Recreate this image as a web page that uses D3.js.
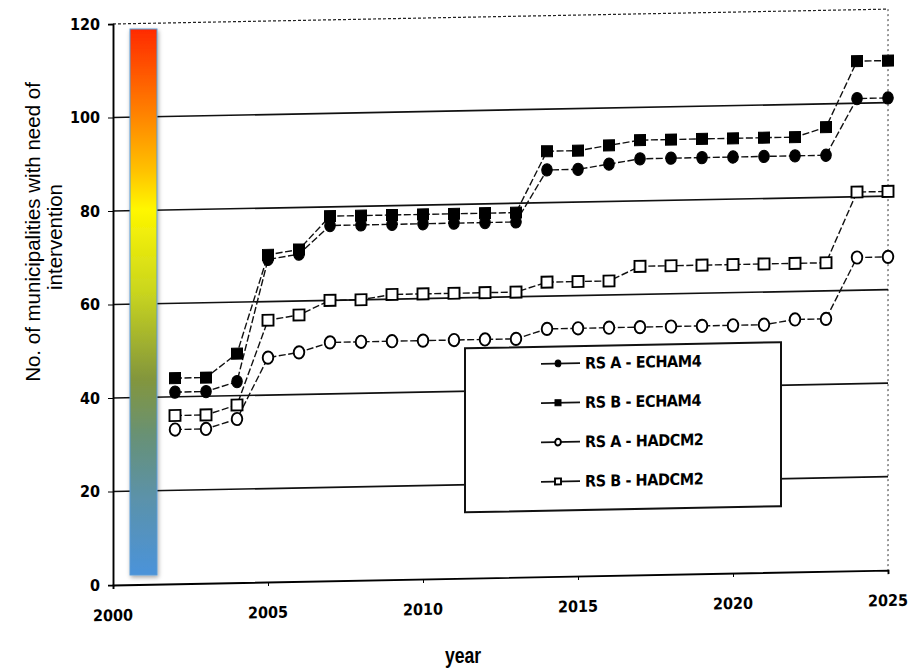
<!DOCTYPE html>
<html>
<head>
<meta charset="utf-8">
<script src="https://cdn.jsdelivr.net/npm/d3@7"></script>
<style>
  body { margin: 0; background: #fff; }
  svg { display: block; font-family: "Liberation Sans", Arial, sans-serif; }
  .narrow { font-family: "Liberation Sans Narrow", "DejaVu Sans Condensed", "Liberation Sans", sans-serif; font-weight: bold; }
</style>
</head>
<body>
<div id="chart"></div>
<script>
// values
const years = [2002, 2003, 2004, 2005, 2006, 2007, 2008, 2009, 2010, 2011, 2012, 2013,
               2014, 2015, 2016, 2017, 2018, 2019, 2020, 2021, 2022, 2023, 2024, 2025];
const rsA_echam4 = [41, 41, 43, 69, 70, 76, 76, 76, 76, 76, 76, 76,
                    87, 87, 88, 89, 89, 89, 89, 89, 89, 89, 101, 101];
const rsB_echam4 = [44, 44, 49, 70, 71, 78, 78, 78, 78, 78, 78, 78,
                    91, 91, 92, 93, 93, 93, 93, 93, 93, 95, 109, 109];
const rsA_hadcm2 = [33, 33, 35, 48, 49, 51, 51, 51, 51, 51, 51, 51,
                    53, 53, 53, 53, 53, 53, 53, 53, 54, 54, 67, 67];
const rsB_hadcm2 = [36, 36, 38, 56, 57, 60, 60, 61, 61, 61, 61, 61,
                    63, 63, 63, 66, 66, 66, 66, 66, 66, 66, 81, 81];

const seriesNames = ["RS A - ECHAM4", "RS B - ECHAM4", "RS A - HADCM2", "RS B - HADCM2"];
const xTicks = [2000, 2005, 2010, 2015, 2020, 2025];
const yTicks = [0, 20, 40, 60, 80, 100, 120];

const series = [
  { name: seriesNames[0], values: rsA_echam4, shape: "circle", filled: true },
  { name: seriesNames[1], values: rsB_echam4, shape: "square", filled: true },
  { name: seriesNames[2], values: rsA_hadcm2, shape: "circle", filled: false },
  { name: seriesNames[3], values: rsB_hadcm2, shape: "square", filled: false }
];

const width = 908, height = 671;
const x0 = 113, x1 = 888, yBottom = 585, yTop = 24;

const svg = d3.select("#chart").append("svg")
  .attr("width", width)
  .attr("height", height);

svg.append("rect").attr("width", width).attr("height", height).attr("fill", "#fff");

const x = d3.scaleLinear().domain([2000, 2025]).range([x0, x1]);
const y = d3.scaleLinear().domain([0, 120]).range([yBottom, yTop]);

// y tick labels sit outside the tilted scan
svg.append("g").selectAll("text")
  .data(yTicks).enter()
  .append("text")
  .attr("class", "narrow")
  .attr("x", 100)
  .attr("y", d => y(d))
  .attr("dy", "0.36em")
  .attr("text-anchor", "end")
  .style("font-size", "16px")
  .text(d => d);

// the scanned plot is slightly tilted
const plot = svg.append("g")
  .attr("transform", "translate(" + x0 + "," + yBottom + ") skewY(-1.1) translate(" + (-x0) + "," + (-yBottom) + ")");

// frame: dotted top and right
plot.append("line")
  .attr("x1", x0).attr("x2", x1).attr("y1", y(120)).attr("y2", y(120))
  .attr("stroke", "#222").attr("stroke-width", 1.2).attr("stroke-dasharray", "3,2");
plot.append("line")
  .attr("x1", x1).attr("x2", x1).attr("y1", y(120)).attr("y2", y(0))
  .attr("stroke", "#333").attr("stroke-width", 1).attr("stroke-dasharray", "2,3");

// gridlines
plot.selectAll(".grid")
  .data(yTicks.filter(d => d > 0 && d < 120)).enter()
  .append("line")
  .attr("class", "grid")
  .attr("x1", x0).attr("x2", x1)
  .attr("y1", d => y(d)).attr("y2", d => y(d))
  .attr("stroke", "#111").attr("stroke-width", 1.7);

// axes
plot.append("g")
  .attr("transform", "translate(0," + yBottom + ")")
  .call(d3.axisBottom(x).tickValues(xTicks).tickSize(4).tickFormat(""))
  .call(g => g.select(".domain").attr("stroke-width", 1.9));
plot.append("g")
  .attr("transform", "translate(" + x0 + ",0)")
  .call(d3.axisLeft(y).tickValues(yTicks).tickSize(5).tickFormat(""))
  .call(g => g.select(".domain").attr("stroke-width", 1.9));

plot.append("g").selectAll("text")
  .data(xTicks).enter()
  .append("text")
  .attr("class", "narrow")
  .attr("x", d => x(d))
  .attr("y", yBottom + 36)
  .attr("text-anchor", "middle")
  .style("font-size", "16px")
  .text(d => d);

// legend box (white, covers gridlines)
const lg = plot.append("g");
lg.append("rect")
  .attr("x", 465).attr("y", 355)
  .attr("width", 316).attr("height", 164)
  .attr("fill", "#fff").attr("stroke", "#111").attr("stroke-width", 2);

// lines and markers
const line = d3.line()
  .x((d, i) => x(years[i]))
  .y(d => y(d));

function marker(sel, s, size) {
  if (s.shape === "circle") {
    sel.append("ellipse")
      .attr("rx", size * 0.48).attr("ry", size * 0.56);
  } else {
    sel.append("rect")
      .attr("x", -size / 2).attr("y", -size / 2)
      .attr("width", size).attr("height", size);
  }
  sel.selectAll("ellipse, rect")
    .attr("fill", s.filled ? "#000" : "#fff")
    .attr("stroke", "#000")
    .attr("stroke-width", s.filled ? 1 : 1.9);
}

series.forEach(function(s) {
  plot.append("path")
    .datum(s.values)
    .attr("d", line)
    .attr("fill", "none")
    .attr("stroke", "#111")
    .attr("stroke-width", 1.4)
    .attr("stroke-dasharray", "7,2.5");
});

series.forEach(function(s) {
  plot.append("g").selectAll("g")
    .data(s.values).enter()
    .append("g")
    .attr("transform", (d, i) => "translate(" + x(years[i]) + "," + y(d) + ")")
    .each(function() { marker(d3.select(this), s, 11); });
});

// legend entries
const ly = d3.scalePoint().domain(seriesNames).range([372, 490]);
series.forEach(function(s) {
  const row = lg.append("g").attr("transform", "translate(0," + ly(s.name) + ")");
  row.append("line")
    .attr("x1", 541).attr("x2", 580).attr("y1", 0).attr("y2", 0)
    .attr("stroke", "#111").attr("stroke-width", 1.8);
  const m = row.append("g").attr("transform", "translate(558,0)");
  marker(m, s, 6);
  row.append("text")
    .attr("class", "narrow")
    .attr("x", 585).attr("y", 0).attr("dy", "0.36em")
    .style("font-size", "16px")
    .style("letter-spacing", "-0.4px")
    .text(s.name);
});

// axis titles
svg.append("text")
  .attr("transform", "translate(40,232) rotate(-90)")
  .attr("text-anchor", "middle")
  .style("font-size", "20.5px")
  .text("No. of municipalities with need of");
svg.append("text")
  .attr("transform", "translate(62,237) rotate(-90)")
  .attr("text-anchor", "middle")
  .style("font-size", "20.5px")
  .text("intervention");
svg.append("text")
  .attr("transform", "translate(463,663) scale(0.8,1)")
  .attr("text-anchor", "middle")
  .style("font-size", "22px")
  .style("font-weight", "bold")
  .text("year");

// colour bar overlay
const defs = svg.append("defs");
const grad = defs.append("linearGradient")
  .attr("id", "bar").attr("x1", 0).attr("x2", 0).attr("y1", 0).attr("y2", 1);
const stops = [
  [0, "#ff2a00"], [0.15, "#ff7f00"], [0.26, "#ffc200"], [0.33, "#fff700"],
  [0.48, "#cad61e"], [0.64, "#83963c"], [0.75, "#679178"], [0.86, "#5b92aa"], [1, "#4b93da"]
];
grad.selectAll("stop").data(stops).enter().append("stop")
  .attr("offset", d => d[0]).attr("stop-color", d => d[1]);
const shadow = defs.append("filter").attr("id", "sh")
  .attr("x", "-30%").attr("y", "-5%").attr("width", "160%").attr("height", "110%");
shadow.append("feDropShadow").attr("dx", 1).attr("dy", 2).attr("stdDeviation", 2)
  .attr("flood-color", "#000").attr("flood-opacity", 0.35);

svg.append("rect")
  .attr("x", 130).attr("y", 29)
  .attr("width", 27).attr("height", 546)
  .attr("fill", "url(#bar)")
  .attr("stroke", "#5b9bd5").attr("stroke-width", 1)
  .attr("filter", "url(#sh)");
</script>
</body>
</html>
